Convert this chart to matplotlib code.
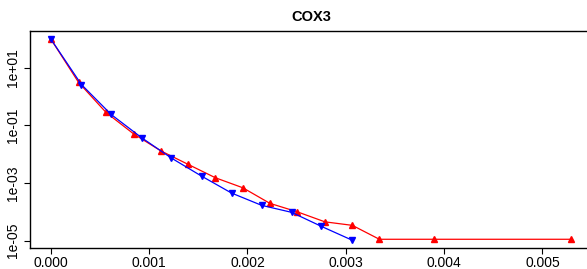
import numpy as np
import matplotlib
matplotlib.use("Agg")
import matplotlib.pyplot as plt

plt.rcParams["font.family"] = ["Liberation Sans", "DejaVu Sans"]

# red series (upward triangles)
red_x = [0.0, 0.000283, 0.000562, 0.000843, 0.001118, 0.001397, 0.001675,
         0.001953, 0.002228, 0.002507, 0.002788, 0.003067, 0.003342,
         0.003902, 0.005293]
red_y = [97, 3.03, 0.277, 0.050, 0.0130, 0.0044, 0.00151,
         0.000682, 0.000197, 1.0e-4, 4.5e-5, 3.4e-5, 1.12e-5,
         1.12e-5, 1.12e-5]

# blue series (downward triangles)
blue_x = [0.0, 0.000311, 0.000613, 0.000925, 0.001227, 0.001533, 0.001838,
          0.002144, 0.002449, 0.002751, 0.003060]
blue_y = [97, 2.58, 0.237, 0.0367, 0.00728, 0.00173, 0.000448,
          0.000168, 9.6e-5, 3.15e-5, 1.06e-5]

x_ticks = [0.000, 0.001, 0.002, 0.003, 0.004, 0.005]
y_ticks = [1e1, 1e-1, 1e-3, 1e-5]
y_labels = ["1e+01", "1e-01", "1e-03", "1e-05"]

fig = plt.figure(figsize=(5.87, 2.69), dpi=100)
ax = fig.add_axes([30 / 587, 1 - 248 / 269, 562 / 587, 217 / 269])

ax.plot(red_x, red_y, color="#ff0000", lw=0.9, marker="^", ms=5,
        mec="#ff0000", mfc="#ff0000")
ax.plot(blue_x, blue_y, color="#0000ff", lw=0.9, marker="v", ms=5,
        mec="#0000ff", mfc="#0000ff")
ax.set_yscale("log")

# R style 4% padding
all_x = np.array(red_x + blue_x)
all_y = np.log10(np.array(red_y + blue_y))
xr = all_x.max() - all_x.min()
yr = all_y.max() - all_y.min()
ax.set_xlim(all_x.min() - 0.04 * xr, all_x.max() + 0.04 * xr)
ax.set_ylim(10 ** (all_y.min() - 0.04 * yr), 10 ** (all_y.max() + 0.04 * yr))

ax.set_xticks(x_ticks)
ax.set_xticklabels([f"{v:.3f}" for v in x_ticks])
ax.set_yticks(y_ticks)
ax.set_yticklabels(y_labels, rotation=90, va="center")
ax.yaxis.set_minor_locator(matplotlib.ticker.NullLocator())
ax.tick_params(axis="both", labelsize=10, length=4, width=0.8)
ax.tick_params(axis="x", pad=1.5)
ax.tick_params(axis="y", pad=3)

for s in ax.spines.values():
    s.set_linewidth(1.0)
    s.set_color("black")

ax.set_title("COX3", fontsize=10.5, fontweight="bold", pad=7)

fig.savefig("out.png", dpi=100)
